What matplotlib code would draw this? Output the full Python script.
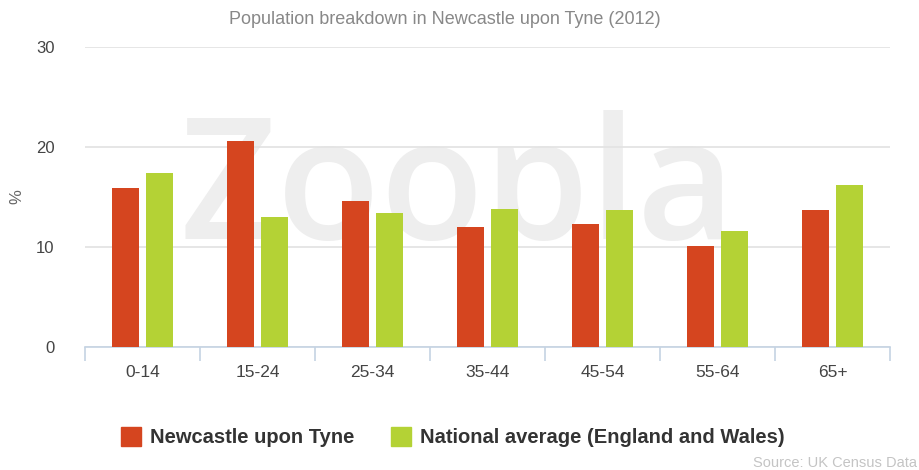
import numpy as np
import matplotlib.pyplot as plt
from matplotlib.patches import Patch

ages = ["0-14", "15-24", "25-34", "35-44", "45-54", "55-64", "65+"]
newcastle = [15.9, 20.6, 14.6, 12.0, 12.3, 10.1, 13.7]
national = [17.4, 13.0, 13.4, 13.8, 13.7, 11.6, 16.2]

red = "#d5451f"
green = "#b4d235"

fig = plt.figure(figsize=(9.2, 4.7), dpi=100)
ax = fig.add_axes([85 / 920, 1 - 347 / 470, 805 / 920, 300 / 470])

# watermark behind the bars
ax.text(0.497, 0.585, "Zoopla", transform=fig.transFigure, fontsize=122, color="#eeeeee",
        ha="center", va="center", zorder=0, family="Open Sans", fontweight="semibold")

x = np.arange(len(ages))
ax.bar(x - 0.148, newcastle, width=0.237, color=red, zorder=3)
ax.bar(x + 0.148, national, width=0.237, color=green, zorder=3)

ax.set_xlim(-0.5, len(ages) - 0.5)
ax.set_ylim(0, 30)
ax.set_yticks([0, 10, 20, 30])
ax.grid(axis="y", color="#e2e2e2", linewidth=1.2, zorder=1)
for s in ["top", "right", "left"]:
    ax.spines[s].set_visible(False)
ax.spines["bottom"].set_color("#c5d3e3")
ax.spines["bottom"].set_linewidth(1.2)

ax.set_xticks(x)
ax.set_xticklabels(ages)
ax.set_xticks(np.arange(len(ages) + 1) - 0.5, minor=True)
ax.tick_params(axis="x", which="major", length=0, pad=13, labelsize=12.5, labelcolor="#444444")
ax.tick_params(axis="x", which="minor", length=10, color="#c5d3e3", width=1.2)
ax.tick_params(axis="y", length=0, pad=22, labelsize=12, labelcolor="#444444")
for t in ax.get_xticklabels() + ax.get_yticklabels():
    t.set_family("Liberation Sans")

ax.set_ylabel("%", fontsize=12, color="#666666", labelpad=8, family="Liberation Sans")
fig.text(0.483, 0.958, "Population breakdown in Newcastle upon Tyne (2012)", ha="center",
         va="center", fontsize=13, color="#888888", family="Liberation Sans")

handles = [Patch(color=red), Patch(color=green)]
fig.legend(handles, ["Newcastle upon Tyne", "National average (England and Wales)"],
           loc="center left", bbox_to_anchor=(0.112, 0.07), ncol=2, frameon=False,
           handlelength=1.0, handleheight=1.1, handletextpad=0.45, columnspacing=1.8,
           prop={"family": "Liberation Sans", "weight": "bold", "size": 14.5},
           labelcolor="#333333")

fig.text(0.997, 0.0, "Source: UK Census Data", fontsize=10.5, color="#c4c4c4",
         family="Liberation Sans", va="bottom", ha="right")

fig.savefig("out.png", dpi=100)
